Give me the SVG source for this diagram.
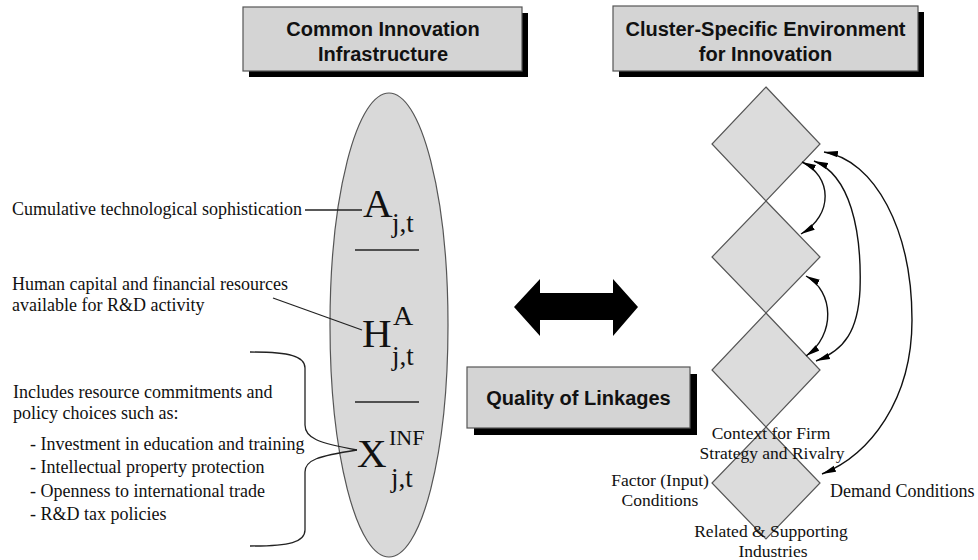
<svg xmlns="http://www.w3.org/2000/svg" width="978" height="560" viewBox="0 0 978 560">
<defs>
<style>
.box{fill:#d4d4d4;stroke:#555;stroke-width:1.2}
.shadow{fill:#000}
.hd{font-family:"Liberation Sans",Arial,sans-serif;font-weight:bold;font-size:20px;fill:#111;text-anchor:middle}
.lbl{font-family:"Liberation Serif","Times New Roman",serif;font-size:18px;fill:#111}
.dl{font-family:"Liberation Serif","Times New Roman",serif;font-size:17.5px;fill:#111;text-anchor:middle}
.math{font-family:"Liberation Serif","Times New Roman",serif;fill:#111}
.dia{fill:#dcdcdc;stroke:#555;stroke-width:1.2}
.ln{stroke:#222;stroke-width:1.3;fill:none}
.arc{stroke:#111;stroke-width:1.4;fill:none;marker-start:url(#ah);marker-end:url(#ah)}
</style>
<marker id="ah" markerUnits="userSpaceOnUse" markerWidth="16" markerHeight="8" refX="14" refY="4" orient="auto-start-reverse">
<path d="M0,0.8 L14,4 L0,7.2 Z" fill="#000"/>
</marker>
</defs>

<g id="header-common">
<rect class="shadow" x="249" y="13" width="279" height="64"/>
<rect class="box" x="243" y="7" width="279" height="64"/>
<text class="hd" x="383" y="36">Common Innovation</text>
<text class="hd" x="383" y="61">Infrastructure</text>
</g>

<g id="header-cluster">
<rect class="shadow" x="619" y="12" width="305" height="65"/>
<rect class="box" x="613" y="6" width="305" height="65"/>
<text class="hd" x="765.5" y="36">Cluster-Specific Environment</text>
<text class="hd" x="765.5" y="61">for Innovation</text>
</g>

<g id="infrastructure-ellipse">
<ellipse cx="389" cy="325" rx="59" ry="232" fill="#d9d9d9" stroke="#555" stroke-width="1.2"/>
<line class="ln" x1="355" y1="250" x2="419" y2="250"/>
<line class="ln" x1="355" y1="402" x2="419" y2="402"/>
<text class="math" x="363" y="217" font-size="41">A</text>
<text class="math" x="392" y="232" font-size="27">j,t</text>
<text class="math" x="362" y="347" font-size="41">H</text>
<text class="math" x="393" y="325" font-size="28">A</text>
<text class="math" x="392" y="365" font-size="27">j,t</text>
<text class="math" x="357" y="467" font-size="41">X</text>
<text class="math" x="389" y="445" font-size="22">INF</text>
<text class="math" x="391" y="487" font-size="27">j,t</text>
</g>

<g id="label-cumulative">
<text class="lbl" x="12" y="215">Cumulative technological sophistication</text>
</g>
<g id="label-human">
<text class="lbl" x="12" y="290">Human capital and financial resources</text>
<text class="lbl" x="12" y="311">available for R&amp;D activity</text>
</g>
<g id="label-includes">
<text class="lbl" x="13" y="398">Includes resource commitments and</text>
<text class="lbl" x="13" y="419">policy choices such as:</text>
<text class="lbl" x="30" y="450">- Investment in education and training</text>
<text class="lbl" x="30" y="473">- Intellectual property protection</text>
<text class="lbl" x="30" y="497">- Openness to international trade</text>
<text class="lbl" x="30" y="520">- R&amp;D tax policies</text>
</g>

<g id="diamond-1"><polygon class="dia" points="766,87 820,144 766,201 712,144"/></g>
<g id="diamond-2"><polygon class="dia" points="766,201 820,257 766,313 712,257"/></g>
<g id="diamond-3"><polygon class="dia" points="766,313 820,370 766,427 712,370"/></g>
<g id="diamond-4"><polygon class="dia" points="766,427 820,483 766,539 712,483"/></g>

<g id="diamond-labels">
<text class="dl" x="771" y="439">Context for Firm</text>
<text class="dl" x="772" y="459">Strategy and Rivalry</text>
<text class="dl" x="660" y="486">Factor (Input)</text>
<text class="dl" x="660" y="506">Conditions</text>
<text class="lbl" x="830" y="497">Demand Conditions</text>
<text class="dl" x="771" y="537">Related &amp; Supporting</text>
<text class="dl" x="773" y="557">Industries</text>
</g>

<g id="quality-linkages">
<rect class="shadow" x="474" y="374" width="223" height="61"/>
<rect class="box" x="467" y="367" width="223" height="61"/>
<text class="hd" x="578.5" y="405">Quality of Linkages</text>
</g>

<g id="connectors">
<polygon points="514,307 540,279 540,293 613,293 613,279 638,307 613,336 613,320 540,320 540,336" fill="#000"/>
<line class="ln" x1="305" y1="210" x2="362" y2="210"/>
<line class="ln" x1="273" y1="298" x2="362" y2="330"/>
<path class="ln" d="M250,352 C290,352 305,356 305,368 L305,425 C305,438 318,443 357,450"/>
<path class="ln" d="M250,546 C290,546 305,542 305,530 L305,472 C305,460 318,456 357,450"/>
<path class="arc" d="M802,162 C832,176 834,215 801,234"/>
<path class="arc" d="M806,276 C834,291 836,335 806,356"/>
<path class="arc" d="M814,161 C850,175 862,230 860,290 C858,330 845,350 816,361"/>
<path class="arc" d="M824,152 C875,160 912,230 912,320 C912,400 870,455 822,474"/>
</g>
</svg>
